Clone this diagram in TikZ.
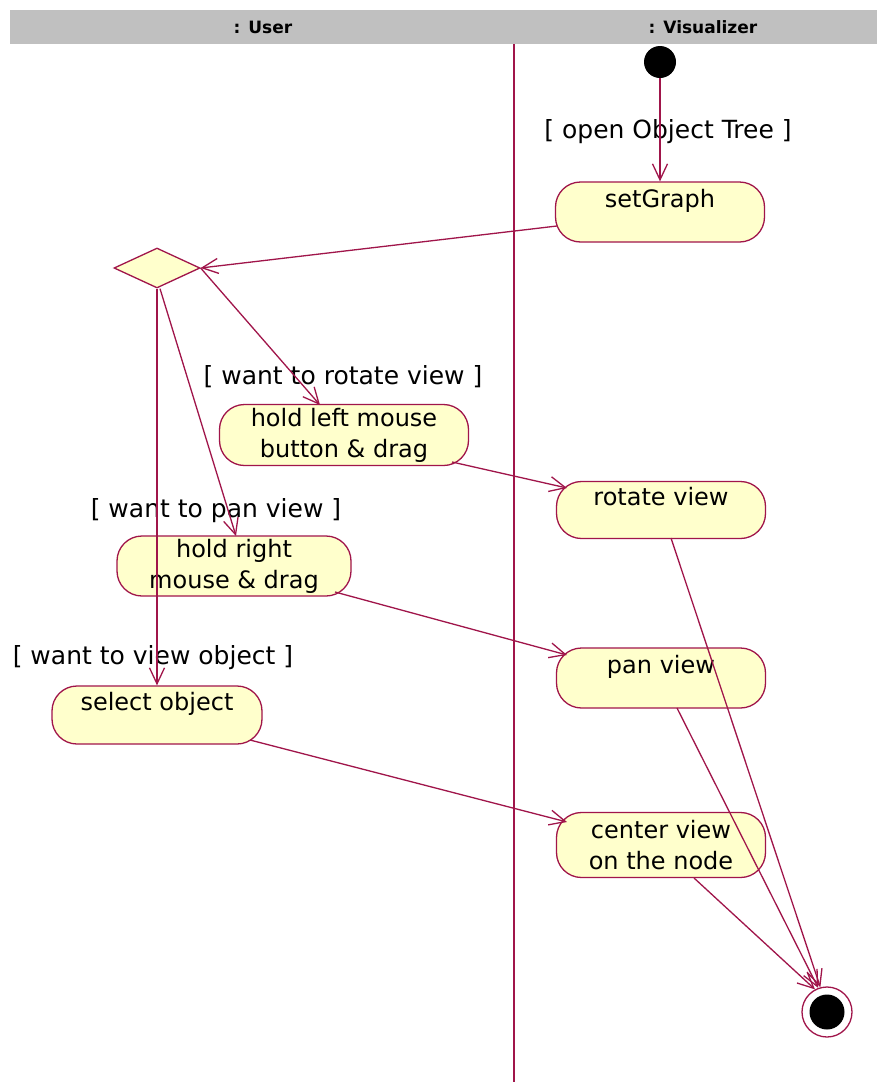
\documentclass[tikz,border=0pt]{standalone}
\usepackage{fontspec}
\setmainfont{DejaVu Sans}
\usetikzlibrary{shapes.geometric,arrows.meta}
\definecolor{umlred}{HTML}{A0154A}
\definecolor{umlfill}{HTML}{FFFFCC}
\definecolor{hdr}{HTML}{C0C0C0}
\tikzset{
  act/.style={draw=umlred, fill=umlfill, line width=1.3pt, rounded corners=25pt,
    minimum width=209pt, inner sep=0pt, align=center,
    font=\fontsize{24pt}{31pt}\selectfont},
  upper/.style={text height=14pt, text depth=23pt},
  guard/.style={font=\fontsize{25pt}{28pt}\selectfont, inner sep=0pt},
  flow/.style={draw=umlred, line width=1.3pt, -{Straight Barb[length=16pt,width=15pt,line width=1.3pt]}},
  lane/.style={font=\bfseries\fontsize{17pt}{19pt}\selectfont, inner sep=0pt},
}
\begin{document}
\begin{tikzpicture}[x=1pt,y=-1pt]
\useasboundingbox (0,0) rectangle (877,1082);
\fill[white] (0,0) rectangle (877,1082);
% header
\fill[hdr] (10,10) rectangle (877,44);
\node[lane] (hu) at (263,27) {: User};
\node[lane] (hv) at (703,27) {: Visualizer};
% lane divider
\draw[umlred, line width=1.3pt] (514,44) -- (514,1082);
% nodes
\node[circle, fill=black, minimum size=32pt, inner sep=0pt] (init) at (660,62) {};
\node[act, upper, minimum height=60pt] (sg) at (660,212) {setGraph};
\node[diamond, draw=umlred, fill=umlfill, line width=1.3pt, minimum width=86pt, minimum height=40pt, inner sep=0pt] (d) at (157,268) {};
\node[act, minimum width=249pt, minimum height=61pt] (hl) at (344,435) {hold left mouse\\button \& drag};
\node[act, upper, minimum height=57pt] (rv) at (661,510) {rotate view};
\node[act, minimum width=234pt, minimum height=60pt] (hr) at (234,566) {hold right\\mouse \& drag};
\node[act, upper, minimum height=60pt] (pv) at (661,678) {pan view};
\node[act, upper, minimum width=210pt, minimum height=58pt] (so) at (157,715) {select object};
\node[act, minimum height=65pt] (cv) at (661,845) {center view\\on the node};
\node[circle, draw=umlred, fill=white, line width=1.3pt, minimum size=50pt, inner sep=0pt] (fin) at (827,1012) {};
\node[circle, fill=black, minimum size=35pt, inner sep=0pt] (fini) at (fin.center) {};
% guards
\node[guard] (g1) at (668,132) {[ open Object Tree ]};
\node[guard] (g2) at (343,377) {[ want to rotate view ]};
\node[guard] (g3) at (216,511) {[ want to pan view ]};
\node[guard] (g4) at (153,658) {[ want to view object ]};
% flows
\draw[flow] (init) -- (sg.north);
\draw[flow] ([shift={(-103,14)}]sg.center) -- (d.east);
\draw[flow] (d.east) -- ([shift={(-24,-30)}]hl.center);
\draw[flow] ([shift={(3,0)}]d.south) -- ([shift={(2,-30)}]hr.center);
\draw[flow] (d.south) -- (so.north);
\draw[flow] ([shift={(108,27)}]hl.center) -- ([shift={(-94,-22)}]rv.center);
\draw[flow] ([shift={(101,26)}]hr.center) -- ([shift={(-94,-23)}]pv.center);
\draw[flow] ([shift={(93,25)}]so.center) -- ([shift={(-94,-23)}]cv.center);
\draw[flow] ([shift={(10,28)}]rv.center) -- (fin.105);
\draw[flow] ([shift={(16,30)}]pv.center) -- (fin.110);
\draw[flow] ([shift={(33,33)}]cv.center) -- (fin.118);
\end{tikzpicture}
\end{document}
